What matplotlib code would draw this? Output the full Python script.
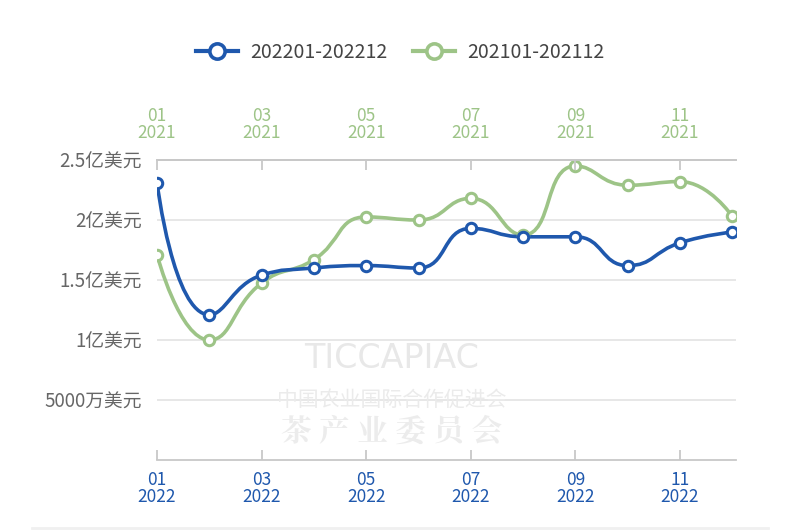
import matplotlib.pyplot as plt
import numpy as np
from matplotlib.path import Path
from matplotlib.patches import PathPatch
from matplotlib.lines import Line2D

plt.rcParams['font.family'] = ['Noto Sans CJK SC', 'DejaVu Sans']

# monthly values, 100 million USD
months = ['01', '02', '03', '04', '05', '06', '07', '08', '09', '10', '11', '12']
values_2022 = [2.31, 1.21, 1.54, 1.60, 1.62, 1.60, 1.93, 1.86, 1.86, 1.62, 1.81, 1.90]
values_2021 = [1.71, 1.00, 1.475, 1.67, 2.025, 2.00, 2.18, 1.875, 2.45, 2.29, 2.32, 2.03]
label_2022 = '202201-202212'
label_2021 = '202101-202112'
y_ticks = [0.5, 1.0, 1.5, 2.0, 2.5]
y_labels = ['5000万美元', '1亿美元', '1.5亿美元', '2亿美元', '2.5亿美元']

blue = '#1f58ad'
green = '#9dc487'
grid_c = '#e3e3e3'
axis_c = '#c8c8c8'
text_c = '#666666'


def smooth_path(xs, ys, sx, sy, smooth=0.5):
    # echarts-like smooth line, control points clamped to each segment's box
    pts = np.column_stack([np.asarray(xs, float) * sx, np.asarray(ys, float) * sy])
    n = len(pts)
    verts = [pts[0]]
    codes = [Path.MOVETO]
    cp0 = pts[0].copy()
    for i in range(1, n):
        p = pts[i]
        prev = pts[i - 1]
        if i == n - 1:
            cp1 = p.copy()
            nxt_cp0 = p.copy()
        else:
            nxt = pts[i + 1]
            lp = np.hypot(*(p - prev))
            ln = np.hypot(*(nxt - p))
            v = nxt - prev
            ratio = ln / (ln + lp)
            nc = p + v * smooth * ratio
            nc = np.minimum(nc, np.maximum(nxt, p))
            nc = np.maximum(nc, np.minimum(nxt, p))
            v = nc - p
            cp1 = p - v * lp / ln
            cp1 = np.minimum(cp1, np.maximum(prev, p))
            cp1 = np.maximum(cp1, np.minimum(prev, p))
            v = p - cp1
            nxt_cp0 = p + v * ln / lp
        verts += [cp0, cp1, p]
        codes += [Path.CURVE4] * 3
        cp0 = nxt_cp0
    verts = np.array(verts) / np.array([sx, sy])
    return Path(verts, codes)


fig = plt.figure(figsize=(8, 5.32), dpi=100)
ax = fig.add_axes([157 / 800, 72 / 532, 579 / 800, 300 / 532])
x = np.arange(len(months))

ax.set_xlim(0, 11.07)
ax.set_ylim(0, 2.5)

for y in y_ticks[:-1]:
    ax.axhline(y, color=grid_c, lw=1.2, zorder=0)

# watermark
ax.text(0.405, 0.34, 'TICCAPIAC', transform=ax.transAxes, ha='center', va='center',
        fontsize=24, color='#e8e8e8', family=['DejaVu Sans'], zorder=0)
ax.text(0.405, 0.2, '中国农业国际合作促进会', transform=ax.transAxes, ha='center', va='center',
        fontsize=15, color='#ebebeb', zorder=0)
ax.text(0.405, 0.093, '茶 产 业 委 员 会', transform=ax.transAxes, ha='center', va='center',
        fontsize=22, color='#ececec', family=['Noto Serif CJK SC', 'Noto Sans CJK SC'],
        weight='bold', zorder=0)

px_x = 575 / 11  # pixels per month
px_y = 120       # pixels per 1亿
for vals, col in [(values_2021, green), (values_2022, blue)]:
    p = smooth_path(x, vals, px_x, px_y)
    ax.add_patch(PathPatch(p, fc='none', ec=col, lw=2.6, zorder=3, capstyle='round'))
    ax.plot(x, vals, ls='none', marker='o', ms=7.5, mfc='white', mec=col, mew=2.2, zorder=4)

for s in ['left', 'right']:
    ax.spines[s].set_visible(False)
for s in ['top', 'bottom']:
    ax.spines[s].set_color(axis_c)
    ax.spines[s].set_linewidth(1.3)

ax.set_yticks(y_ticks)
ax.set_yticklabels(y_labels)
ax.tick_params(axis='y', length=0, pad=11, labelsize=13.5, labelcolor=text_c)

ax.set_xticks(x[::2])
ax.set_xticklabels([m + '\n2022' for m in months[::2]], linespacing=0.95)
ax.tick_params(axis='x', direction='in', length=7, width=1.3, color=axis_c,
               labelsize=12.5, labelcolor=blue, pad=8)

top = ax.twiny()
top.set_xlim(ax.get_xlim())
top.set_xticks(x[::2])
top.set_xticklabels([m + '\n2021' for m in months[::2]], linespacing=0.95)
top.tick_params(axis='x', direction='in', length=7, width=1.3, color=axis_c,
                labelsize=12.5, labelcolor=green, pad=13)
for s in ['left', 'right', 'bottom']:
    top.spines[s].set_visible(False)
top.spines['top'].set_color(axis_c)
top.spines['top'].set_linewidth(1.3)

handles = [
    Line2D([0], [0], color=blue, lw=3, marker='o', ms=11, mfc='white', mec=blue, mew=2.6),
    Line2D([0], [0], color=green, lw=3, marker='o', ms=11, mfc='white', mec=green, mew=2.6),
]
fig.legend(handles, [label_2022, label_2021], loc='center', bbox_to_anchor=(0.5, 1 - 52 / 532),
           ncol=2, frameon=False, fontsize=14, labelcolor='#444444', handlelength=2.2,
           handletextpad=0.6, columnspacing=1.3)

fig.add_artist(Line2D([0.04, 0.96], [4 / 532, 4 / 532], color='#f0f0f0', lw=2))

fig.savefig('out.png', dpi=100, facecolor='white')
